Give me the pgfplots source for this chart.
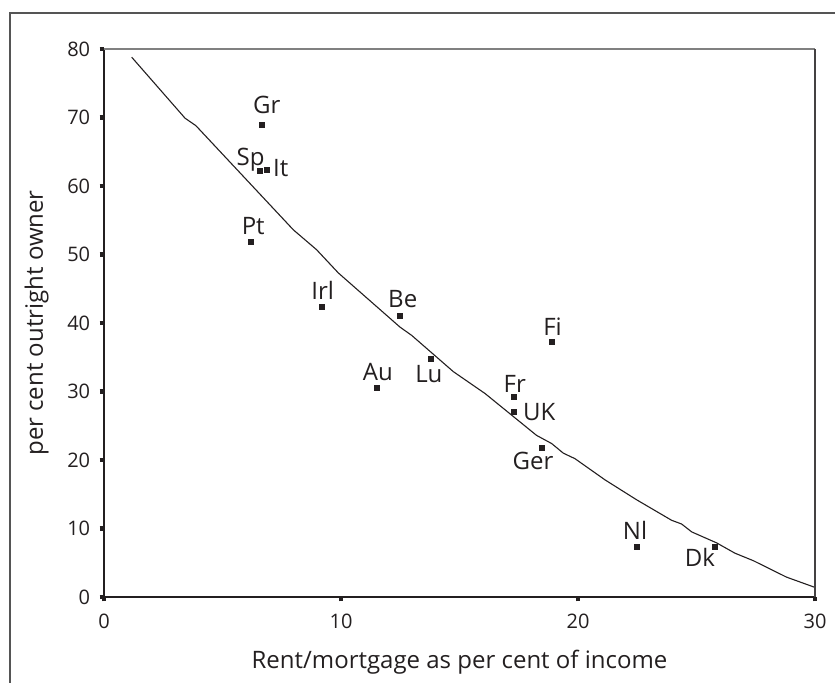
\documentclass[border=0pt]{standalone}
\usepackage{fontspec}
\setmainfont{Open Sans}
\usepackage{pgfplots}
\pgfplotsset{compat=1.18}
\definecolor{ink}{HTML}{231F20}
\definecolor{framegray}{HTML}{555555}

\begin{document}
\begin{tikzpicture}[lab/.style={ink, font=\fontsize{12}{14}\selectfont, inner sep=0pt}]
  \begin{axis}[
      at={(0,0)}, anchor=south west,
      scale only axis,
      width=355.5pt, height=274pt,
      xmin=0, xmax=30, ymin=0, ymax=80,
      axis x line*=bottom, axis y line*=left,
      axis line style={ink, line width=0.65pt, -},
      xtick={0,10,20,30},
      ytick={0,10,...,80},
      tick align=outside,
      major tick length=2.2pt,
      tick style={ink, line width=2.2pt},
      /pgf/number format/assume math mode=true,
      ticklabel style={ink, font=\fontsize{10}{12}\selectfont},
      yticklabel style={xshift=-1.2pt},
      xticklabel style={yshift=-2.7pt},
    ]
    % fitted curve
    \addplot[ink, line width=0.55pt, no marks] coordinates {
      (1.17,78.8) (3.42,69.9) (3.88,68.8) (7.99,53.6) (8.97,50.7)
      (9.89,47.3) (12.49,39.4) (12.98,38.2) (14.74,32.9) (16.08,29.7)
      (18.25,23.6) (18.89,22.4) (19.38,21.0) (19.87,20.2) (21.14,17.1)
      (22.47,14.2) (23.95,11.2) (24.37,10.66) (24.80,9.5) (25.85,7.9)
      (26.62,6.4) (27.40,5.3) (28.80,2.9) (30.0,1.4)
    };
    % countries
    \addplot[only marks, mark=square*, mark size=1.25pt, ink] coordinates {
      (6.68,68.9) (6.58,62.2) (6.89,62.3) (6.20,51.9) (9.19,42.3)
      (12.49,41.0) (11.52,30.5) (13.78,34.7) (18.89,37.2) (17.30,29.15)
      (17.30,26.96) (18.48,21.7) (22.48,7.35) (25.78,7.25)
    };
    \node[lab, anchor=base, xshift=2.25pt, yshift=6pt] at (axis cs:6.68,68.9) {Gr};
    \node[lab, anchor=base east, xshift=2.5pt, yshift=2.85pt] at (axis cs:6.58,62.2) {Sp};
    \node[lab, anchor=base west, xshift=2.7pt, yshift=-3.35pt] at (axis cs:6.89,62.3) {It};
    \node[lab, anchor=base, xshift=1.15pt, yshift=3.35pt] at (axis cs:6.20,51.9) {Pt};
    \node[lab, anchor=base, xshift=0.4pt, yshift=4pt] at (axis cs:9.19,42.3) {Irl};
    \node[lab, anchor=base, xshift=1.35pt, yshift=4.35pt] at (axis cs:12.49,41.0) {Be};
    \node[lab, anchor=base, xshift=0.4pt, yshift=3.8pt] at (axis cs:11.52,30.5) {Au};
    \node[lab, anchor=base, xshift=-0.85pt, yshift=-11.7pt] at (axis cs:13.78,34.7) {Lu};
    \node[lab, anchor=base, xshift=0.4pt, yshift=3.5pt] at (axis cs:18.89,37.2) {Fi};
    \node[lab, anchor=base, xshift=0.35pt, yshift=2.35pt] at (axis cs:17.30,29.15) {Fr};
    \node[lab, anchor=base west, xshift=4.35pt, yshift=-3.85pt] at (axis cs:17.30,26.96) {UK};
    \node[lab, anchor=base, xshift=-4.5pt, yshift=-10.5pt] at (axis cs:18.48,21.7) {Ger};
    \node[lab, anchor=base, xshift=-0.85pt, yshift=3.35pt] at (axis cs:22.48,7.35) {Nl};
    \node[lab, anchor=base, xshift=-7.5pt, yshift=-9.7pt] at (axis cs:25.78,7.25) {Dk};
  \end{axis}
  % top and right sides of the box
  \draw[gray, line width=0.9pt] (0pt,274pt) -- (355.5pt,274pt);
  \draw[ink!85, line width=0.65pt] (355.5pt,0pt) -- (355.5pt,274pt);
  % outer frame (only left and top visible)
  \draw[framegray, line width=0.9pt] (-47pt,-60pt) -- (-47pt,292pt) -- (400pt,292pt);
  % axis titles
  \node[ink, font=\fontsize{12}{14}\selectfont, anchor=base] at (177.75pt,-35.5pt)
    {Rent/mortgage as per cent of income};
  \node[ink, font=\fontsize{12}{14}\selectfont, anchor=base, rotate=90] at (-30.5pt,137pt)
    {per cent outright owner};
  \pgfresetboundingbox
  \useasboundingbox (-52pt,-42.5pt) rectangle (365.5pt,298.5pt);
\end{tikzpicture}
\end{document}
